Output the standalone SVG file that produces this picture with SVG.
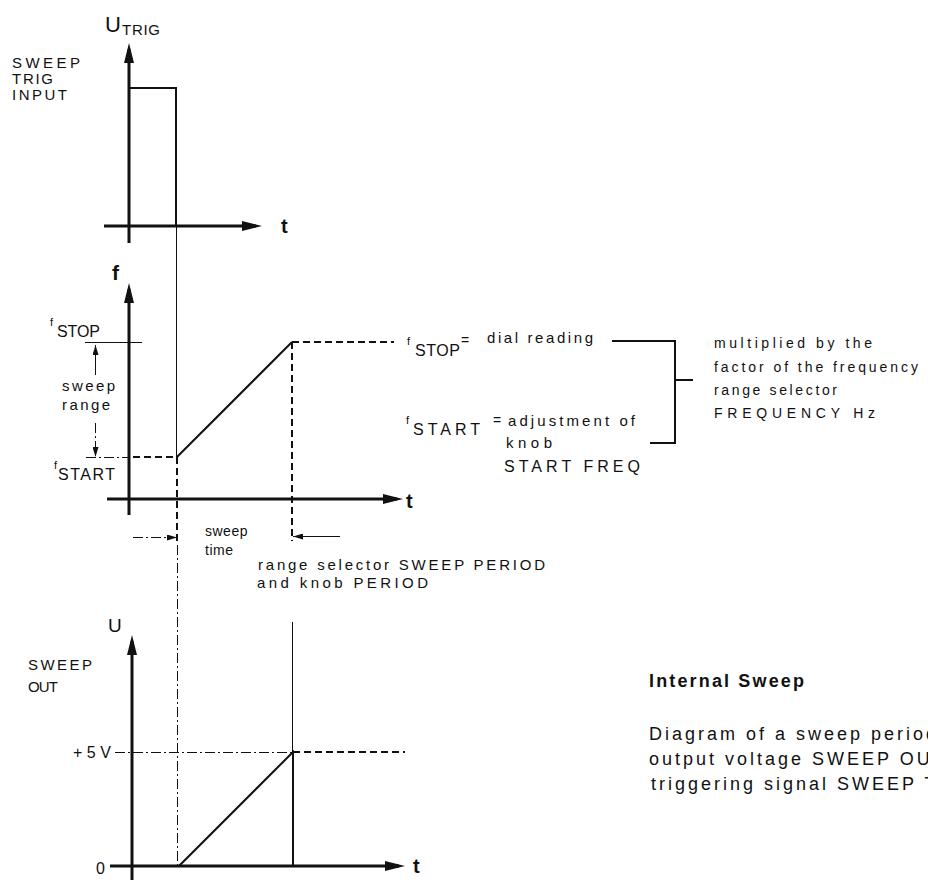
<svg xmlns="http://www.w3.org/2000/svg" width="928" height="884" viewBox="0 0 928 884">
<style>
text{font-family:"Liberation Sans",Arial,sans-serif;fill:#111}
.ax{stroke:#111;stroke-width:3;fill:none}
.sig{stroke:#111;stroke-width:2;fill:none}
.dsh{stroke:#111;stroke-width:2;fill:none;stroke-dasharray:7 4}
.thin{stroke:#111;stroke-width:1;fill:none}
.dd{stroke:#111;stroke-width:1;fill:none;stroke-dasharray:10 3 2 3}
.lbl{font-size:15px}
.b{font-weight:bold}
</style>
<defs>
<marker id="ah" viewBox="0 0 20 10" refX="14" refY="5" markerWidth="20" markerHeight="10" markerUnits="userSpaceOnUse" orient="auto"><path d="M0,0 L20,5 L0,10 z" fill="#111"/></marker>
<marker id="sa" viewBox="0 0 10 6" refX="10" refY="3" markerWidth="10" markerHeight="6" markerUnits="userSpaceOnUse" orient="auto"><path d="M0,0 L10,3 L0,6 z" fill="#111"/></marker>
</defs>

<g id="trig-graph">
<line class="ax" x1="129" y1="243" x2="129" y2="49" marker-end="url(#ah)"/>
<line class="ax" x1="104" y1="226" x2="256" y2="226" marker-end="url(#ah)"/>
<polyline class="sig" points="129,88 176,88 176,226"/>
<text x="105" y="32" font-size="22">U</text>
<text x="122" y="35" font-size="15" textLength="38" lengthAdjust="spacing">TRIG</text>
<text x="12" y="68" class="lbl" textLength="68" lengthAdjust="spacing">SWEEP</text>
<text x="12" y="84" class="lbl" textLength="41" lengthAdjust="spacing">TRIG</text>
<text x="12" y="100" class="lbl" textLength="55" lengthAdjust="spacing">INPUT</text>
<text x="281" y="233" font-size="20" class="b">t</text>
</g>

<g id="guides">
<line class="thin" x1="176.5" y1="226" x2="176.5" y2="457"/>
<line class="dsh" x1="177" y1="457" x2="177" y2="545"/>
<line class="dd" x1="177.5" y1="545" x2="177.5" y2="866"/>
<line class="dsh" x1="292" y1="342" x2="292" y2="541"/>
<line class="thin" x1="292.5" y1="622" x2="292.5" y2="752"/>
</g>

<g id="freq-graph">
<line class="ax" x1="129" y1="515" x2="129" y2="289" marker-end="url(#ah)"/>
<line class="ax" x1="107" y1="499" x2="397" y2="499" marker-end="url(#ah)"/>
<line class="dsh" x1="133" y1="457" x2="177" y2="457"/>
<polyline class="sig" points="177,457 292,342"/>
<line class="dsh" x1="292" y1="342" x2="394" y2="342"/>
<line class="thin" x1="85" y1="342.5" x2="142" y2="342.5"/>
<line class="dd" x1="86" y1="457.5" x2="129" y2="457.5"/>
<line class="thin" x1="95.5" y1="375" x2="95.5" y2="345" marker-end="url(#sa)"/>
<line class="dd" x1="95.5" y1="423" x2="95.5" y2="457" marker-end="url(#sa)"/>
<text x="112" y="280" font-size="21" class="b">f</text>
<text x="50" y="326" font-size="11">f</text>
<text x="57" y="337" font-size="16" textLength="43" lengthAdjust="spacing">STOP</text>
<text x="62" y="391" class="lbl" textLength="53" lengthAdjust="spacing">sweep</text>
<text x="62" y="410" class="lbl" textLength="48" lengthAdjust="spacing">range</text>
<text x="54" y="469" font-size="11">f</text>
<text x="58" y="480" font-size="16" textLength="57" lengthAdjust="spacing">START</text>
<text x="406" y="508" font-size="20" class="b">t</text>
</g>

<g id="freq-notes">
<text x="407" y="345" font-size="11">f</text>
<text x="415" y="356" font-size="16" textLength="45" lengthAdjust="spacing">STOP</text>
<text x="461" y="345" font-size="14">=</text>
<text x="487" y="343" font-size="15" textLength="106" lengthAdjust="spacing">dial reading</text>
<text x="406" y="424" font-size="11">f</text>
<text x="413" y="435" font-size="16" textLength="67" lengthAdjust="spacing">START</text>
<text x="493" y="425" font-size="14">=</text>
<text x="508" y="426" font-size="15" textLength="127" lengthAdjust="spacing">adjustment of</text>
<text x="506" y="448" font-size="15" textLength="46" lengthAdjust="spacing">knob</text>
<text x="504" y="472" font-size="16" textLength="136" lengthAdjust="spacing">START FREQ</text>
<polyline class="sig" points="612,341 675,341 675,443 650,443"/>
<line class="sig" x1="675" y1="380" x2="693" y2="380"/>
<text x="714" y="348" font-size="14" textLength="158" lengthAdjust="spacing">multiplied by the</text>
<text x="714" y="372" font-size="14" textLength="204" lengthAdjust="spacing">factor of the frequency</text>
<text x="714" y="395" font-size="14" textLength="123" lengthAdjust="spacing">range selector</text>
<text x="714" y="418" font-size="14" textLength="161" lengthAdjust="spacing">FREQUENCY Hz</text>
</g>

<g id="sweep-time">
<line class="dd" x1="133" y1="537.5" x2="177" y2="537.5" marker-end="url(#sa)"/>
<line class="thin" x1="340" y1="536.5" x2="293" y2="536.5" marker-end="url(#sa)"/>
<text x="205" y="536" font-size="14" letter-spacing="0.5">sweep</text>
<text x="205" y="555" font-size="14" letter-spacing="0.5">time</text>
<text x="258" y="570" font-size="15" textLength="287" lengthAdjust="spacing">range selector SWEEP PERIOD</text>
<text x="257" y="588" font-size="15" textLength="171" lengthAdjust="spacing">and knob PERIOD</text>
</g>

<g id="out-graph">
<line class="ax" x1="132" y1="880" x2="132" y2="641" marker-end="url(#ah)"/>
<line class="ax" x1="110" y1="866" x2="399" y2="866" marker-end="url(#ah)"/>
<polyline class="sig" points="179,866 293,752 293,866"/>
<line class="dd" x1="115" y1="752.5" x2="293" y2="752.5"/>
<line class="dsh" x1="293" y1="752" x2="405" y2="752"/>
<text x="108" y="632" font-size="19">U</text>
<text x="28" y="670" class="lbl" textLength="64" lengthAdjust="spacing">SWEEP</text>
<text x="28" y="692" class="lbl" textLength="30" lengthAdjust="spacing">OUT</text>
<text x="73" y="758" font-size="16">+ 5 V</text>
<text x="96" y="874" font-size="16">0</text>
<text x="413" y="873" font-size="20" class="b">t</text>
</g>

<g id="caption">
<text x="649" y="687" font-size="18" class="b" textLength="155" lengthAdjust="spacing">Internal Sweep</text>
<text x="649" y="740" font-size="18" letter-spacing="3">Diagram of a sweep period</text>
<text x="649" y="765" font-size="18" letter-spacing="3">output voltage SWEEP OUT</text>
<text x="651" y="790" font-size="18" letter-spacing="3">triggering signal SWEEP  T</text>
</g>
</svg>
